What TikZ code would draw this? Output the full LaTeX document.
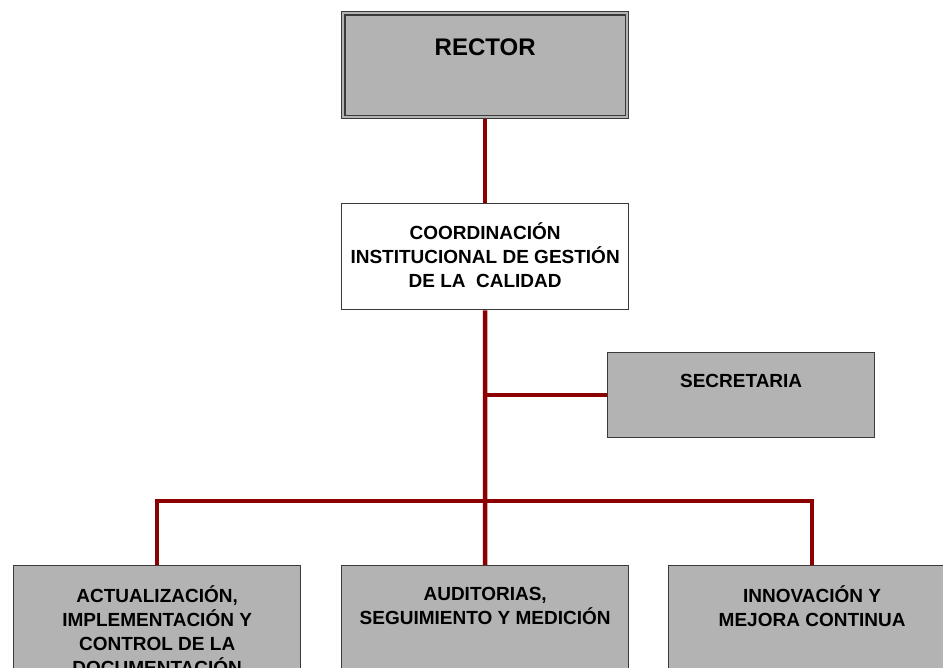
\documentclass[tikz,border=0pt]{standalone}
\usepackage{fontspec}
\setmainfont{Liberation Sans}
\usetikzlibrary{calc,backgrounds}
\definecolor{boxgray}{HTML}{B3B3B3}
\definecolor{edgegray}{HTML}{3A3A3A}
\definecolor{linkred}{HTML}{8B0000}
\begin{document}
\begin{tikzpicture}[x=1pt,y=-1pt,
  unit/.style={draw=edgegray, line width=1.3pt, fill=boxgray, inner sep=0pt,
               minimum width=287pt, anchor=north west},
  plain/.style={unit, fill=white},
  lbl/.style={align=center, inner sep=0pt, text=black,
              font=\bfseries\fontsize{19}{24}\selectfont},
  link/.style={draw=linkred, line width=4.5pt}
]
\useasboundingbox (0,0) rectangle (943,668);
\clip (0,0) rectangle (943,668);

% boxes
\node[unit, minimum height=107pt] (rector) at (341,11) {};
\draw[edgegray, line width=1.3pt]
  ($(rector.north west)+(4,4)$) rectangle ($(rector.south east)+(-4,-4)$);
\node[plain, minimum height=106pt] (coord) at (341,203) {};
\node[unit, minimum width=267pt, minimum height=85pt] (secr) at (607,352) {};
\node[unit, minimum height=140pt] (doc) at (13,565) {};
\node[unit, minimum height=140pt] (audit) at (341,565) {};
\node[unit, minimum height=140pt] (innov) at (668,565) {};
\coordinate (bus) at (485,501);

% connectors, kept behind the boxes
\begin{scope}[on background layer]
\draw[link] (rector.south) -- (coord.north);
\draw[link] (coord.south) -- (bus);
\draw[link] (coord.south |- secr.west) -- (secr.west);
\draw[link] (doc.north) |- (bus) -| (innov.north);
\draw[link] (bus) -- (audit.north);
\end{scope}

% labels
\node[lbl, font=\bfseries\fontsize{24}{28}\selectfont] (rectorlbl)
  at ($(rector.north)+(0,36)$) {RECTOR};
\node[lbl] (coordlbl) at ($(coord.north)+(0,52)$)
  {COORDINACIÓN\\INSTITUCIONAL DE GESTIÓN\\DE LA\ \ CALIDAD};
\node[lbl] (secrlbl) at ($(secr.north)+(0,29)$) {SECRETARIA};
\node[lbl] (doclbl) at ($(doc.north)+(0,65)$)
  {ACTUALIZACIÓN,\\IMPLEMENTACIÓN Y\\CONTROL DE LA\\DOCUMENTACIÓN};
\node[lbl] (auditlbl) at ($(audit.north)+(0,41)$)
  {AUDITORIAS,\\SEGUIMIENTO Y MEDICIÓN};
\node[lbl] (innovlbl) at ($(innov.north)+(0,41)$)
  {INNOVACIÓN Y\\MEJORA CONTINUA};
\end{tikzpicture}
\end{document}
